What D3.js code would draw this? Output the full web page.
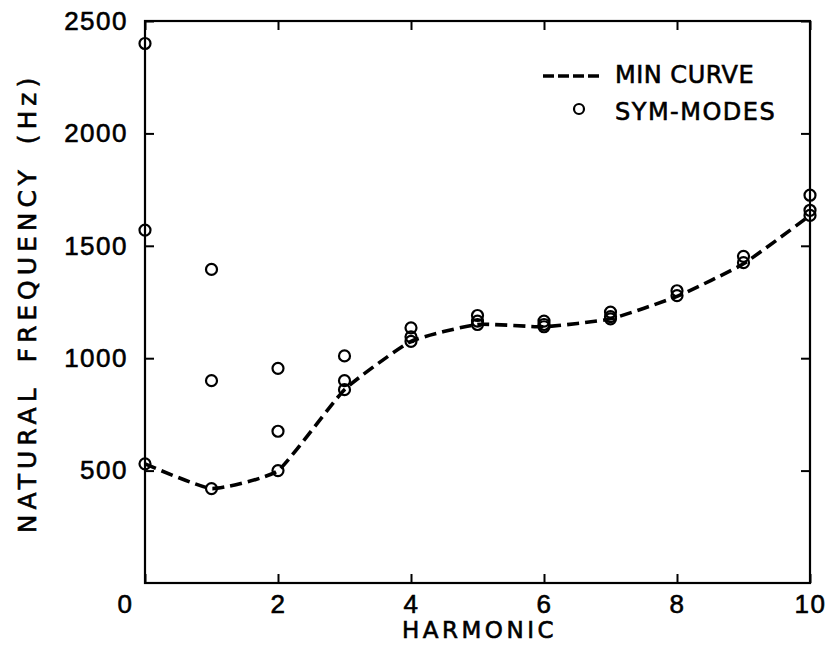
<!DOCTYPE html>
<html>
<head>
<meta charset="utf-8">
<script src="https://cdn.jsdelivr.net/npm/d3@7"></script>
<style>
  html, body { margin: 0; padding: 0; background: #fff; }
  svg { display: block; font-family: "DejaVu Sans", sans-serif; }
  text { fill: #000; stroke: #000; stroke-width: 0.6px; }
</style>
</head>
<body>
<svg id="chart" width="832" height="648"></svg>
<script>
// Harmonic numbers along the x axis
const harmonics = [0, 1, 2, 3, 4, 5, 6, 7, 8, 9, 10];

// Natural frequencies (Hz) of the symmetric modes found at each harmonic
const symModes = [
  [2400, 1570, 530],
  [1395, 900, 420],
  [955, 675, 500],
  [1010, 900, 860],
  [1135, 1095, 1075],
  [1190, 1165, 1150],
  [1165, 1150, 1140],
  [1205, 1185, 1175],
  [1300, 1278],
  [1453, 1425],
  [1725, 1658, 1635]
];

// Lowest frequency at each harmonic
const minCurve = [530, 420, 500, 860, 1075, 1150, 1140, 1175, 1275, 1420, 1635];

const xTicks = [0, 2, 4, 6, 8, 10];
const yTicks = [500, 1000, 1500, 2000, 2500];

const width = 832, height = 648;
const margin = { top: 21, right: 22, bottom: 65, left: 145 };
const innerW = width - margin.left - margin.right;
const innerH = height - margin.top - margin.bottom;

const svg = d3.select("#chart");
const g = svg.append("g").attr("transform", `translate(${margin.left},${margin.top})`);

const x = d3.scaleLinear().domain([0, 10]).range([0, innerW]);
const y = d3.scaleLinear().domain([0, 2500]).range([innerH, 0]);
const fmt = d3.format("d");

// Bottom axis: inward ticks with labels
const xAxis = g.append("g")
  .attr("transform", `translate(0,${innerH})`)
  .call(d3.axisBottom(x).tickValues(xTicks).tickFormat(fmt)
    .tickSize(-9).tickSizeOuter(0).tickPadding(12));
xAxis.selectAll("text").filter(d => d === 0).attr("dx", -20);

// Left axis
g.append("g")
  .call(d3.axisLeft(y).tickValues(yTicks).tickFormat(fmt)
    .tickSize(-9).tickSizeOuter(0).tickPadding(17));

// Top and right mirror ticks
g.append("g")
  .call(d3.axisTop(x).tickValues(xTicks).tickSize(-9).tickSizeOuter(0).tickFormat(""));
g.append("g")
  .attr("transform", `translate(${innerW},0)`)
  .call(d3.axisRight(y).tickValues(yTicks).tickSize(-9).tickSizeOuter(0).tickFormat(""));

g.selectAll(".domain").remove();
g.selectAll(".tick line").attr("stroke", "#000").attr("stroke-width", 2);
g.selectAll(".tick text")
  .attr("fill", "#000")
  .style("font-size", "26px")
  .style("letter-spacing", "1.5px");

// Plot frame
g.append("rect")
  .attr("x", 0).attr("y", 0)
  .attr("width", innerW).attr("height", innerH)
  .attr("fill", "none").attr("stroke", "#000").attr("stroke-width", 2.2);

// Minimum frequency curve
const line = d3.line()
  .x((d, i) => x(harmonics[i]))
  .y(d => y(d))
  .curve(d3.curveCardinal.tension(0.55));

g.append("path")
  .datum(minCurve)
  .attr("d", line)
  .attr("fill", "none")
  .attr("stroke", "#000")
  .attr("stroke-width", 3.6)
  .attr("stroke-dasharray", "12,6");

// Symmetric mode markers
const points = harmonics.flatMap((h, i) => symModes[i].map(v => ({ h, v })));
g.selectAll("circle.mode")
  .data(points)
  .join("circle")
  .attr("class", "mode")
  .attr("cx", d => x(d.h))
  .attr("cy", d => y(d.v))
  .attr("r", 5.5)
  .attr("fill", "none")
  .attr("stroke", "#000")
  .attr("stroke-width", 2.2);

// Axis titles
svg.append("text")
  .attr("x", margin.left + innerW / 2 + 2)
  .attr("y", 638)
  .attr("text-anchor", "middle")
  .style("font-size", "23px")
  .style("letter-spacing", "3.5px")
  .text("HARMONIC");

svg.append("text")
  .attr("transform", `translate(36,${303}) rotate(-90)`)
  .attr("text-anchor", "middle")
  .style("font-size", "25px")
  .style("letter-spacing", "5px")
  .style("word-spacing", "8px")
  .text("NATURAL FREQUENCY (Hz)");

// Legend
const legend = svg.append("g");
legend.append("line")
  .attr("x1", 543).attr("x2", 600)
  .attr("y1", 76).attr("y2", 76)
  .attr("stroke", "#000").attr("stroke-width", 3.6)
  .attr("stroke-dasharray", "11,4");
legend.append("text")
  .attr("x", 615).attr("y", 83)
  .style("font-size", "24px")
  .style("letter-spacing", "0.5px")
  .text("MIN CURVE");
legend.append("circle")
  .attr("cx", 579).attr("cy", 109).attr("r", 5)
  .attr("fill", "none").attr("stroke", "#000").attr("stroke-width", 2.2);
legend.append("text")
  .attr("x", 615).attr("y", 120)
  .style("font-size", "24px")
  .style("letter-spacing", "1.5px")
  .text("SYM-MODES");
</script>
</body>
</html>
